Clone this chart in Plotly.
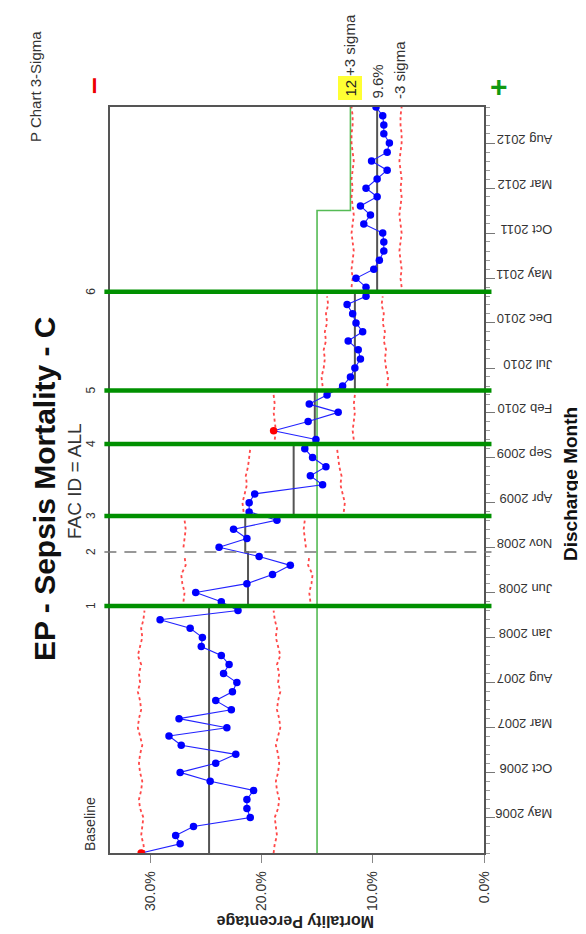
import pandas as pd
import plotly.graph_objects as go

# ---------------- data ----------------
start_month = "2006-01-01"
n_months = 84
months = pd.date_range(start_month, periods=n_months, freq="MS")

mortality_pct = [
    30.8, 27.3, 27.7, 26.1, 21.0, 21.3, 21.3, 20.7, 24.6, 27.3,
    24.1, 22.3, 27.2, 28.3, 23.1, 27.4, 22.7, 24.1, 22.6, 22.2,
    23.4, 22.9, 23.6, 25.4, 25.3, 26.4, 29.1, 22.1,
    23.6, 25.9, 21.3, 19.0, 17.4, 20.2,
    23.8, 21.3, 22.5, 18.6,
    21.1, 21.1, 20.6, 14.5, 15.6, 14.2, 15.4, 16.1,
    15.1, 18.9, 15.8, 13.1, 15.7, 14.1,
    12.7, 12.0, 11.6, 11.1, 11.3, 12.2, 10.9, 11.5, 11.8, 12.3, 10.6,
    10.6, 11.5, 9.9, 9.4, 9.0, 9.0, 9.1, 10.8, 10.2, 11.1,
    9.6, 10.6, 9.6, 8.7, 10.1, 8.7, 8.5, 9.0, 9.0, 9.1, 9.7,
]
out_of_control = [0, 47]  # point indices drawn in red

phase_names = ["Baseline", "1", "2", "3", "4", "5", "6"]
phase_starts = [0, 28, 34, 38, 46, 52, 63]
phase_center = [24.7, 21.2, 21.45, 17.1, 15.2, 11.6, 9.6]

ucl = [
    30.5, 30.6, 30.8, 30.7, 30.6, 30.9, 31.0, 30.8, 30.7, 30.9,
    31.0, 30.9, 30.7, 30.9, 31.1, 31.0, 30.8, 30.9, 31.1, 30.9,
    31.0, 30.8, 31.1, 30.9, 30.7, 30.8, 30.6, 30.5,
    27.0, 26.9, 27.1, 27.2, 26.8, 26.9,
    27.0, 26.9, 26.8, 26.9,
    21.6, 21.7, 21.5, 21.3, 21.4, 21.2, 21.1, 21.0,
    18.8, 18.7, 18.8, 18.9, 18.8, 18.9,
    14.5, 14.6, 14.4, 14.3, 14.4, 14.2, 14.3, 14.1, 14.2, 14.0, 14.1,
    11.9, 11.8, 11.9, 11.8, 11.7, 11.8, 11.9, 11.8, 11.7, 11.8,
    11.9, 11.8, 11.9, 11.8, 11.7, 11.8, 11.9, 11.9, 11.8, 11.8, 11.9,
]
lcl = [
    18.9, 18.8, 18.6, 18.7, 18.8, 18.5, 18.4, 18.6, 18.7, 18.5,
    18.4, 18.5, 18.7, 18.5, 18.3, 18.4, 18.6, 18.5, 18.3, 18.5,
    18.4, 18.6, 18.3, 18.5, 18.7, 18.6, 18.8, 18.9,
    15.6, 15.7, 15.5, 15.4, 15.8, 15.7,
    16.0, 16.1, 16.2, 16.1,
    12.6, 12.5, 12.7, 12.9, 12.8, 13.0, 13.1, 13.2,
    11.7, 11.8, 11.7, 11.6, 11.7, 11.6,
    8.7, 8.6, 8.8, 8.9, 8.8, 9.0, 8.9, 9.1, 9.0, 9.2, 9.1,
    7.4, 7.5, 7.4, 7.5, 7.6, 7.5, 7.4, 7.5, 7.6, 7.5,
    7.4, 7.5, 7.4, 7.5, 7.6, 7.5, 7.4, 7.4, 7.5, 7.5, 7.4,
]
goal_values = [15.0, 12.0]
goal_change_index = 72

x_tick_values = [0, 10, 20, 30]
x_tick_labels = ["0.0%", "10.0%", "20.0%", "30.0%"]
first_tick_month = "2006-05-01"

center_label = "9.6%"
goal_label = "12"

# ---------------- derived series ----------------
phase_ends = phase_starts[1:] + [n_months]
center = []
for s, e, c in zip(phase_starts, phase_ends, phase_center):
    center += [c] * (e - s)

ucl_x, ucl_y, lcl_x, lcl_y = [], [], [], []
for s, e in zip(phase_starts, phase_ends):
    ucl_x += ucl[s:e] + [None]
    lcl_x += lcl[s:e] + [None]
    ucl_y += list(months[s:e]) + [None]
    lcl_y += list(months[s:e]) + [None]

goal = [goal_values[0] if i < goal_change_index else goal_values[1] for i in range(n_months)]

def boundary(i):
    return months[i - 1] + (months[i] - months[i - 1]) / 2

FONT = "Liberation Sans, Arial, sans-serif"

W, H = 586, 934
ML, MR, MT, MB = 102, 110, 99, 89
PW, PH = W - ML - MR, H - MT - MB

def px(x):
    return (x - ML) / PW

def py(y):
    return (H - MB - y) / PH

fig = go.Figure()

fig.add_trace(go.Scatter(x=goal, y=months, mode="lines", line=dict(color="#55bb55", width=1.6, shape="vhv"),
                         hoverinfo="skip", showlegend=False))
fig.add_trace(go.Scatter(x=ucl_x, y=ucl_y, mode="lines", line=dict(color="rgba(255,40,40,0.85)", width=1.8, dash="dot"),
                         connectgaps=False, showlegend=False))
fig.add_trace(go.Scatter(x=lcl_x, y=lcl_y, mode="lines", line=dict(color="rgba(255,40,40,0.85)", width=1.8, dash="dot"),
                         connectgaps=False, showlegend=False))
fig.add_trace(go.Scatter(x=center, y=months, mode="lines", line=dict(color="#555555", width=2, shape="vhv"),
                         showlegend=False))
marker_colors = ["#ff0000" if i in out_of_control else "#0000ff" for i in range(n_months)]
fig.add_trace(go.Scatter(x=mortality_pct, y=months, mode="lines+markers",
                         line=dict(color="#2222ff", width=1.1),
                         marker=dict(color=marker_colors, size=7.5),
                         showlegend=False))

# phase lines
for idx, name in zip(phase_starts[1:], phase_names[1:]):
    yb = boundary(idx)
    if name == "2":
        line = dict(color="#777777", width=1.5, dash="12px,8px")
    else:
        line = dict(color="#009000", width=4.5)
    fig.add_shape(type="line", xref="paper", yref="y", x0=-0.015, x1=1.02, y0=yb, y1=yb, line=line, layer="above")
    fig.add_annotation(text=name, xref="paper", yref="y", x=px(83), y=yb, showarrow=False,
                       xanchor="center", yanchor="middle",
                       textangle=-90, font=dict(family=FONT, size=12, color="#333"))

def ann(text, x, y, size, angle=-90, color="#222", bold=False, **kw):
    t = f"<b>{text}</b>" if bold else text
    fig.add_annotation(text=t, xref="paper", yref="paper", x=px(x), y=py(y), showarrow=False,
                       xanchor="center", yanchor="middle",
                       textangle=angle, font=dict(family=FONT, size=size, color=color), **kw)

ann("EP - Sepsis Mortality - C", 36, 481, 30, bold=True, color="#111")
ann("FAC ID = ALL", 66, 473, 19, color="#333")
ann("P Chart 3-Sigma", 28, 79, 15, color="#333")
ann(phase_names[0], 82, 816, 14, color="#333")
ann("–", 84, 78, 30, bold=True, color="#ee0000")
ann("+", 491, 79, 30, bold=True, color="#119911", angle=0)
ann(goal_label, 342, 80.5, 15, color="#222", bgcolor="#ffff33", borderpad=3)
ann("+3 sigma", 342, 37, 15, color="#333")
ann(center_label, 369, 73.5, 15, color="#333")
ann("-3 sigma", 391, 62, 15, color="#333")
ann("Discharge Month", 562, 476, 19, bold=True, color="#111")
ann("Mortality Percentage", 288, 914, 16, bold=True, color="#222", angle=180)

fig.update_layout(
    width=W, height=H, margin=dict(l=ML, r=MR, t=MT, b=MB, autoexpand=False),
    paper_bgcolor="white", plot_bgcolor="white",
    font=dict(family=FONT, size=12, color="#333"),
    xaxis=dict(range=[33.6, 0], tickvals=x_tick_values, ticktext=x_tick_labels, tickangle=-90,
               ticks="outside", ticklen=8, tickcolor="#888", showgrid=False, zeroline=False,
               showline=True, linecolor="#555", linewidth=1.5, mirror=True, automargin=False,
               ticklabelstandoff=3,
               tickfont=dict(size=14, color="#333")),
    yaxis=dict(type="date", range=[months[0], months[-1]], side="right", dtick="M5", tick0=first_tick_month,
               tickformat="%b %Y", tickangle=180, ticks="outside", ticklen=9, tickcolor="#777",
               ticklabelstandoff=55,
               minor=dict(dtick="M1", ticks="outside", ticklen=4, tickcolor="#999"),
               showgrid=False, zeroline=False, showline=True, linecolor="#555", linewidth=1.5, mirror=True,
               automargin=False, tickfont=dict(size=13, color="#333")),
)

fig.write_html("out.html")
